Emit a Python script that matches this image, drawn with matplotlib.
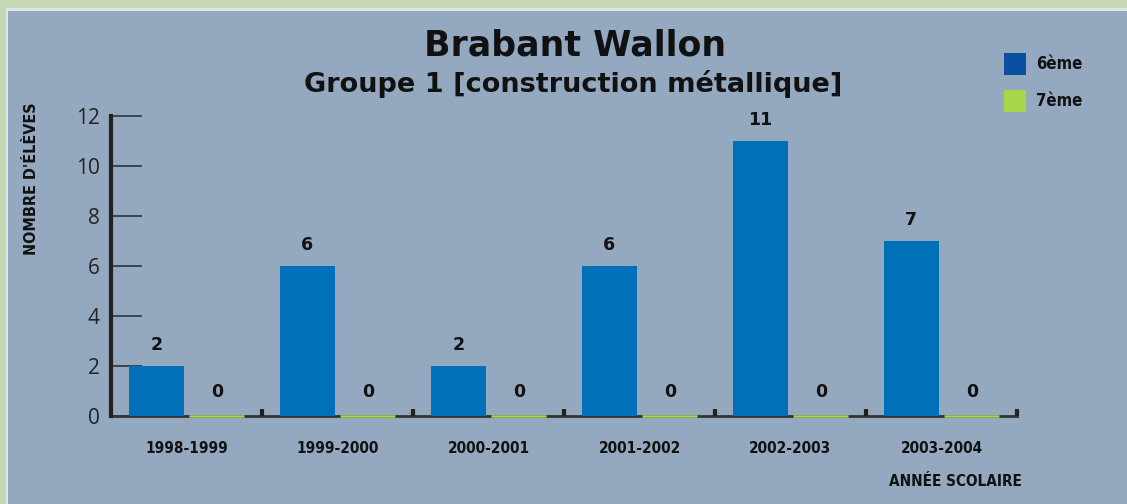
import matplotlib
matplotlib.use("Agg")
import matplotlib.pyplot as plt
from matplotlib.patches import Rectangle
import numpy as np

categories = ["1998-1999", "1999-2000", "2000-2001", "2001-2002", "2002-2003", "2003-2004"]
sixieme = [2, 6, 2, 6, 11, 7]
septieme = [0, 0, 0, 0, 0, 0]
series_names = ["6ème", "7ème"]
yticks = [0, 2, 4, 6, 8, 10, 12]

W, H = 1127, 504
fig = plt.figure(figsize=(W / 100, H / 100), dpi=100)
fig.patch.set_facecolor("#c5d8b6")

panel_col = "#94a8c0"
fig.add_artist(Rectangle((6 / W, 0), 1 - 6 / W, 1 - 8 / H, transform=fig.transFigure,
                         facecolor="#dfe6ea", edgecolor="none", zorder=0))
fig.add_artist(Rectangle((8 / W, 0), 1 - 8 / W, 1 - 11 / H, transform=fig.transFigure,
                         facecolor=panel_col, edgecolor="none", zorder=0))

cond = dict(family="DejaVu Sans", stretch="condensed", fontweight="bold")
reg = ["Open Sans", "DejaVu Sans"]
bold = ["DejaVu Sans", "Liberation Sans"]

x0, x1 = 111, 1017
y0, y12 = 416, 116
ax = fig.add_axes([x0 / W, 1 - y0 / H, (x1 - x0) / W, (y0 - y12) / H])
ax.set_facecolor("none")

x = np.arange(len(categories))
bw = 0.365
blue = "#0070b8"
green = "#a6d64a"
ax.bar(x - 0.2, sixieme, width=bw, color=blue, zorder=3)
ax.bar(x + 0.2, septieme, width=bw, color=green, edgecolor=green, linewidth=1.8,
       zorder=5, clip_on=False)

for xi, v in zip(x, sixieme):
    ax.text(xi - 0.2, v + 0.85, str(v), ha="center", va="center", fontsize=12.5,
            fontweight="bold", family=bold, color="#111111")
for xi, v in zip(x, septieme):
    ax.text(xi + 0.2, v + 0.95, str(v), ha="center", va="center", fontsize=12.5,
            fontweight="bold", family=bold, color="#111111")

ax.set_xlim(-0.5, 5.5)
ax.set_ylim(0, 12)
ax.set_yticks(yticks)
ax.set_yticklabels([str(t) for t in yticks], family=reg, fontsize=15, color="#222222")
ax.tick_params(axis="y", direction="in", length=22, width=1.2, color="#333333", pad=8)

ax.set_xticks(x)
ax.set_xticklabels(categories, fontsize=11, color="#111111", **cond)
ax.tick_params(axis="x", length=0, pad=18)
for b in np.arange(0.5, 6.0, 1.0):
    ax.plot([b, b], [0, 0.3], color="#222222", lw=3, zorder=4, solid_capstyle="butt", clip_on=False)

for s in ["top", "right"]:
    ax.spines[s].set_visible(False)
ax.spines["left"].set_linewidth(3)
ax.spines["left"].set_color("#222222")
ax.spines["bottom"].set_linewidth(2)
ax.spines["bottom"].set_color("#333333")
ax.spines["bottom"].set_zorder(2)

ax.set_ylabel("NOMBRE D'ÉLÈVES", fontsize=11.5, color="#111111", **cond)
ax.yaxis.set_label_coords(-0.08, 0.79)

fig.text(955 / W, 1 - 482 / H, "ANNÉE SCOLAIRE", fontsize=11, color="#111111",
         ha="center", va="center", **cond)

fig.text(575 / W, 1 - 46 / H, "Brabant Wallon", family=bold, fontweight="bold",
         fontsize=25, ha="center", va="center", color="#111111")
fig.text(573 / W, 1 - 84 / H, "Groupe 1 [construction métallique]", family=bold,
         fontweight="bold", fontsize=19.5, ha="center", va="center", color="#111111")

for yy, col, name in [(64, "#0b50a0", series_names[0]), (101, green, series_names[1])]:
    fig.add_artist(Rectangle((1004 / W, 1 - (yy + 11) / H), 22 / W, 22 / H,
                             transform=fig.transFigure, facecolor=col, edgecolor="none"))
    fig.text(1036 / W, 1 - yy / H, name, fontsize=12, color="#111111",
             ha="left", va="center", **cond)

fig.savefig("out.png", dpi=100, facecolor=fig.get_facecolor())
